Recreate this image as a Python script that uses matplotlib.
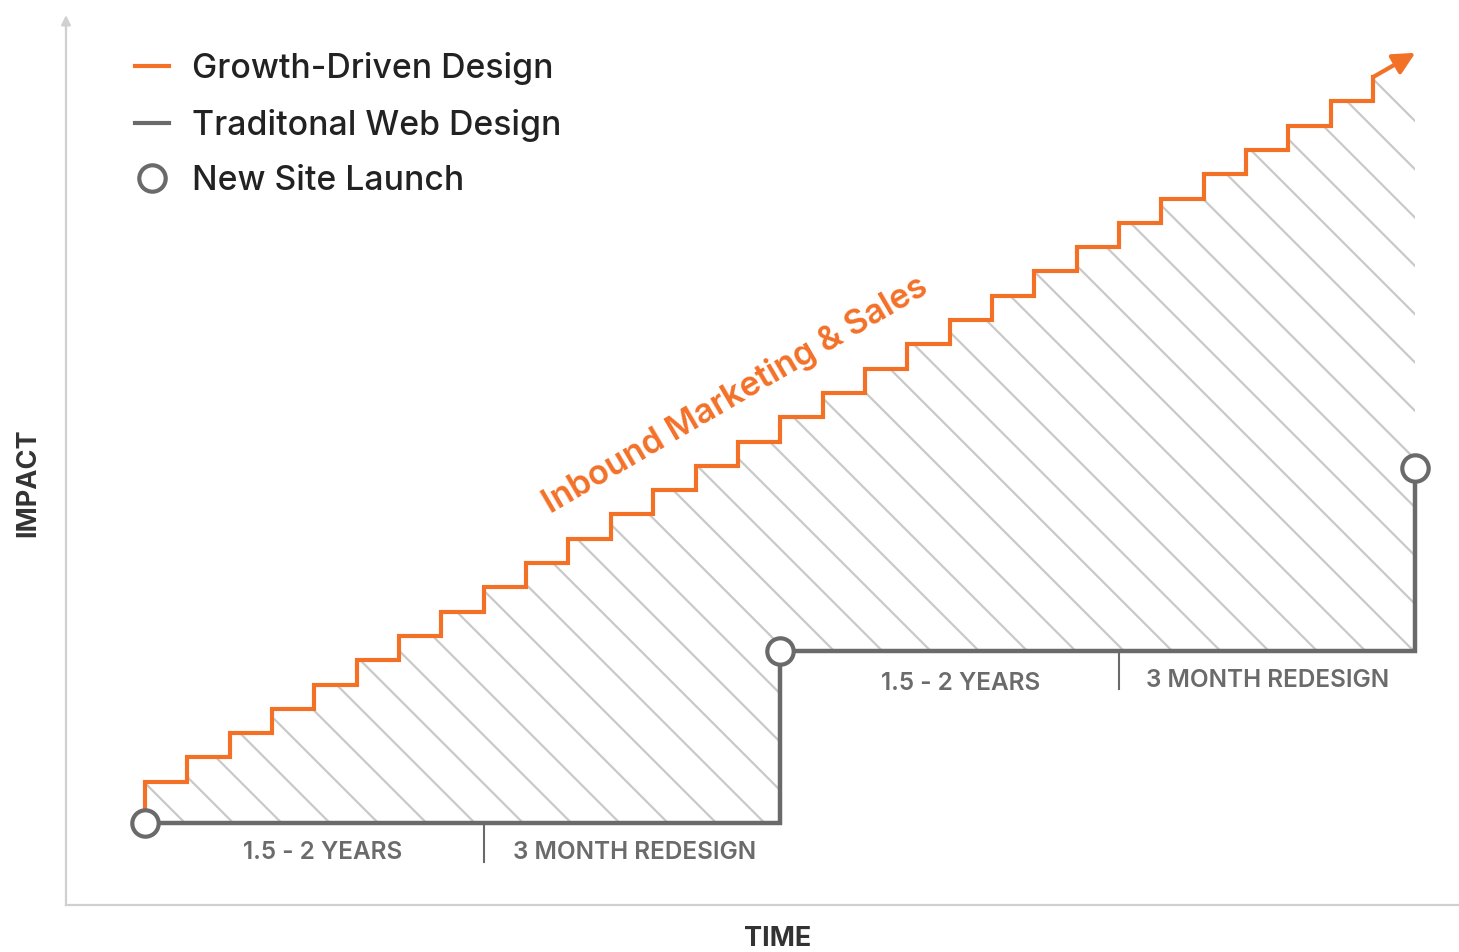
import numpy as np
import matplotlib
matplotlib.use('Agg')
import matplotlib.pyplot as plt
from matplotlib.lines import Line2D
from matplotlib.collections import LineCollection
from matplotlib.transforms import IdentityTransform

plt.rcParams['font.family'] = ['Inter', 'DejaVu Sans']

# --- data (time in steps, impact in step heights) ---
gdd_time = [0, 1, 2, 3, 4, 5, 6, 7, 8, 9, 10, 11, 12, 13, 14,
            15, 16, 17, 18, 19, 20, 21, 22, 23, 24, 25, 26, 27, 28, 29]
gdd_impact = [1.7, 2.7, 3.7, 4.7, 5.7, 6.7, 7.7, 8.7, 9.7, 10.7,
              11.7, 12.7, 13.7, 14.7, 15.7, 16.7, 17.7, 18.7, 19.7, 20.7,
              21.7, 22.7, 23.7, 24.7, 25.7, 26.7, 27.7, 28.7, 29.7, 30.7]
gdd_arrow_tip = (30, 31.7)

launch_time = [0, 15, 30]
launch_impact = [0, 7.1, 14.6]

divider_time = [8, 23]
phase_labels = ['1.5 - 2 YEARS', '3 MONTH REDESIGN', '1.5 - 2 YEARS', '3 MONTH REDESIGN']
phase_time = [4.2, 11.55, 19.25, 26.5]
phase_impact = [-1.23, -1.23, 5.76, 5.88]

legend_labels = ['Growth-Driven Design', 'Traditonal Web Design', 'New Site Launch']

ORANGE = '#f37027'
GRAY = '#6a6a6a'
AXIS = '#d0d0d0'
HATCH = '#c9c9c9'

W, H = 1459, 952
fig = plt.figure(figsize=(W / 100, H / 100), dpi=100)
ax = fig.add_axes([66 / W, 47 / H, 1 - 66 / W, (905 - 20) / H])
ax.set_xlim(-1.866, 31.03)
ax.set_ylim(-3.374, 33.05)
ax.set_xticks([])
ax.set_yticks([])
for s in ['top', 'right']:
    ax.spines[s].set_visible(False)
for s in ['left', 'bottom']:
    ax.spines[s].set_color(AXIS)
    ax.spines[s].set_linewidth(1.6)

# y axis arrow head
ax.annotate('', xy=(0, 1.0055), xytext=(0, 0.99), xycoords='axes fraction',
            arrowprops=dict(arrowstyle='-|>', color=AXIS, lw=1.6,
                            mutation_scale=14, shrinkA=0, shrinkB=0),
            annotation_clip=False)

# --- hatched gain region ---
xs = np.array(gdd_time + [gdd_arrow_tip[0]], dtype=float)
upper = np.array(gdd_impact + [gdd_impact[-1]])
idx = np.searchsorted(launch_time, xs, side='right') - 1
lower = np.array(launch_impact)[idx]
poly = ax.fill_between(xs, lower, upper, step='post', facecolor='none',
                       edgecolor='none', zorder=1)

fig.canvas.draw()
segs = []
for b in np.arange(638 - 48.3 * 40, 638 + 48.3 * 40, 48.3):
    # lines at 45 deg in image pixels: py = px + b
    p0 = (-200, H - (-200 + b))
    p1 = (W + 200, H - (W + 200 + b))
    segs.append([p0, p1])
lc = LineCollection(segs, colors=HATCH, linewidths=1.6,
                    transform=IdentityTransform(), zorder=1)
ax.add_collection(lc)
lc.set_clip_path(poly.get_paths()[0], ax.transData)

# --- growth-driven design staircase ---
ax.step([0] + gdd_time, [0] + gdd_impact, where='post', color=ORANGE,
        lw=3.0, solid_joinstyle='miter', zorder=3)
ax.annotate('', xy=gdd_arrow_tip, xytext=(gdd_time[-1], gdd_impact[-1]),
            arrowprops=dict(arrowstyle='-|>', color=ORANGE, lw=3.0,
                            mutation_scale=33, shrinkA=0, shrinkB=0),
            zorder=3)

# --- traditional web design ---
ax.step(launch_time, launch_impact, where='post', color=GRAY, lw=3.2,
        solid_joinstyle='miter', zorder=4)
for t in divider_time:
    i = np.searchsorted(launch_time, t, side='right') - 1
    ax.plot([t, t], [launch_impact[i], launch_impact[i] - 1.6], color=GRAY,
            lw=1.5, zorder=4)
ax.plot(launch_time, launch_impact, 'o', ms=19, mfc='white', mec=GRAY,
        mew=3, zorder=5, clip_on=False)

for lab, t, v in zip(phase_labels, phase_time, phase_impact):
    ax.text(t, v, lab, ha='center', va='center', fontsize=17.5,
            color='#6b6b6b', fontweight=600)

ax.text(13.93, 17.6, 'Inbound Marketing & Sales', color=ORANGE, fontsize=24.5,
        fontweight=600, rotation=30.3, rotation_mode='anchor',
        ha='center', va='center')

# --- legend ---
handles = [Line2D([], [], color=ORANGE, lw=3),
           Line2D([], [], color=GRAY, lw=3),
           Line2D([], [], ls='none', marker='o', ms=19, mfc='white',
                  mec=GRAY, mew=3)]
leg = ax.legend(handles, legend_labels, loc='upper left',
                bbox_to_anchor=(135 / W, 1 - 52 / H), bbox_transform=fig.transFigure,
                frameon=False, fontsize=24.3, handlelength=1.0, handletextpad=0.68,
                labelspacing=0.7, borderpad=0, borderaxespad=0, labelcolor='#222222')
for txt in leg.get_texts():
    txt.set_fontweight(500)

fig.text(28 / W, 1 - 483 / H, 'IMPACT', rotation=90, ha='center', va='center',
         fontsize=19.5, fontweight=700, color='#333333')
fig.text(778 / W, 1 - 939 / H, 'TIME', ha='center', va='center',
         fontsize=19.5, fontweight=700, color='#333333')

fig.savefig('out.png', dpi=100)
